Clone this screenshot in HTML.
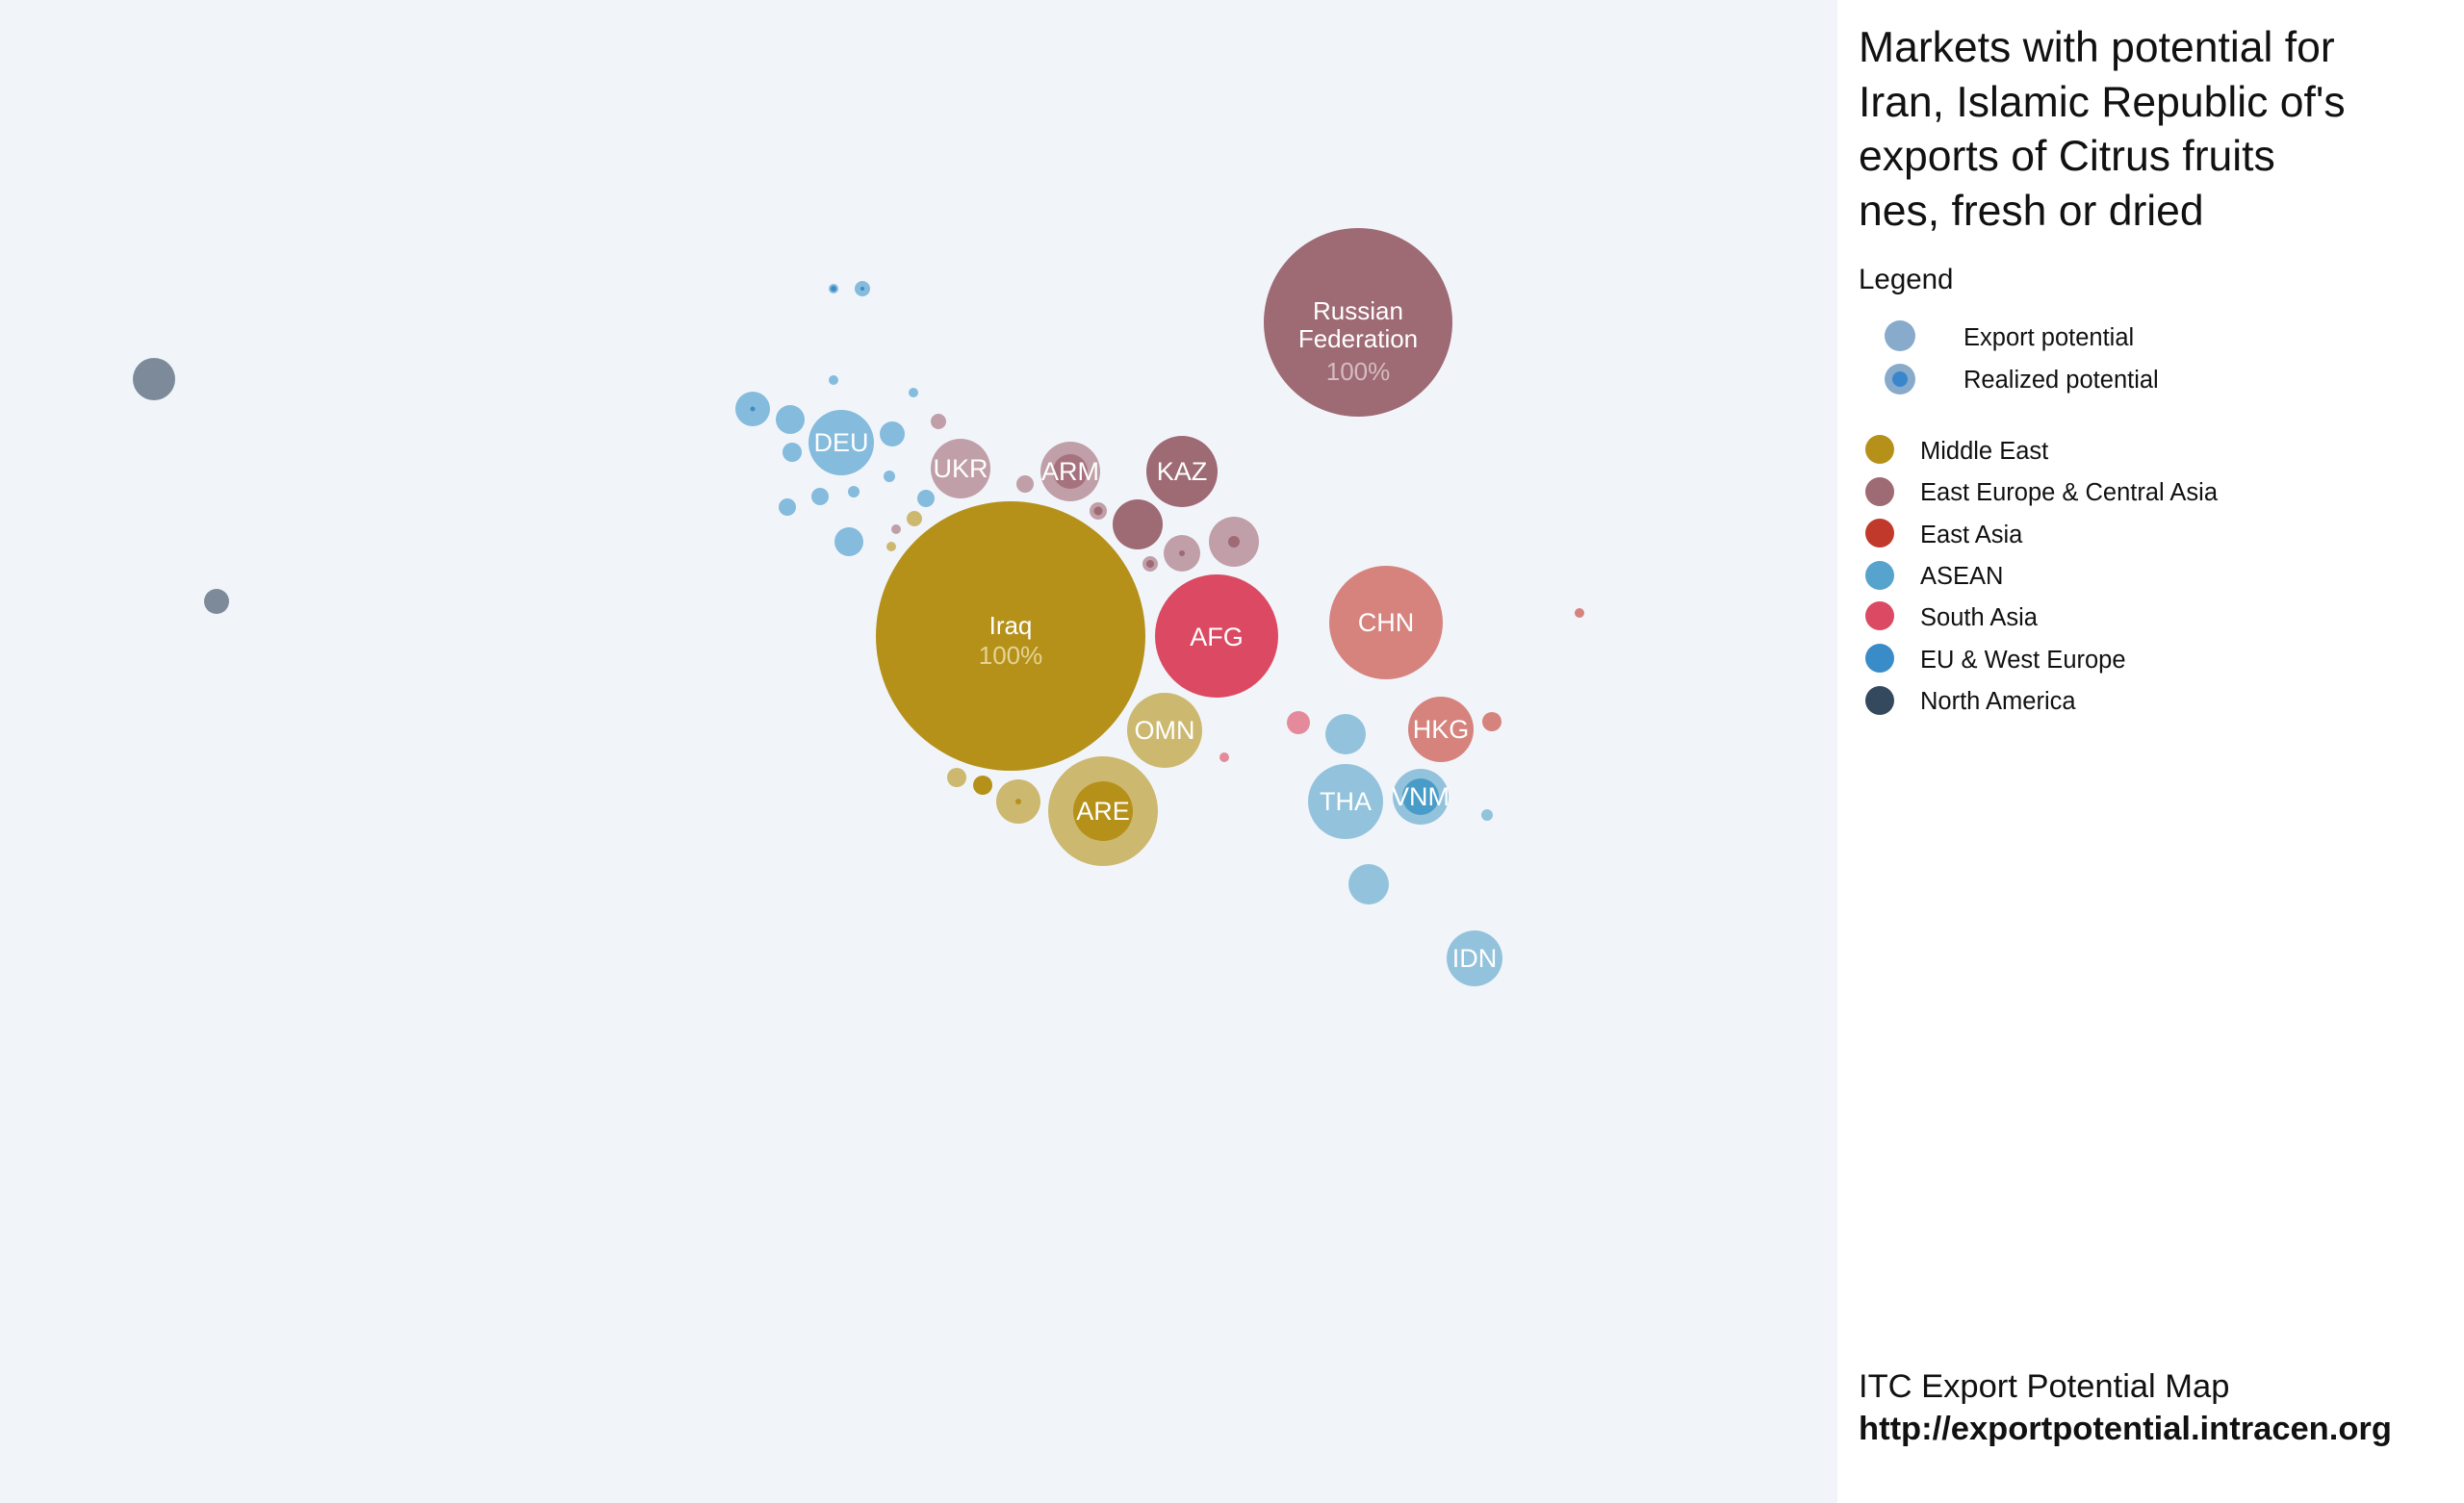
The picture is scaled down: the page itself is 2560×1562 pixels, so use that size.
<!DOCTYPE html>
<html><head><meta charset="utf-8"><style>
html,body{margin:0;padding:0;}
body{width:2560px;height:1562px;background:#f1f5fa;font-family:"Liberation Sans",sans-serif;position:relative;overflow:hidden;}
#panel{position:absolute;left:1909px;top:0;width:651px;height:1562px;background:#fff;}
.t{position:absolute;color:#111;white-space:nowrap;}
</style></head><body>
<svg width="1909" height="1562" style="position:absolute;left:0;top:0" font-family="Liberation Sans, sans-serif">
<g fill-opacity="1">
<circle cx="160" cy="394" r="22" fill="#7d8a99"/>
<circle cx="225" cy="625" r="13" fill="#7d8a99"/>
<circle cx="782" cy="425" r="18" fill="#85bbdc"/><circle cx="782" cy="425" r="2.5" fill="#3d8cc4"/>
<circle cx="821" cy="436" r="15" fill="#85bbdc"/>
<circle cx="823" cy="470" r="10" fill="#85bbdc"/>
<circle cx="927" cy="451" r="13" fill="#85bbdc"/>
<circle cx="882" cy="563" r="15" fill="#85bbdc"/>
<circle cx="818" cy="527" r="9" fill="#85bbdc"/>
<circle cx="852" cy="516" r="9" fill="#85bbdc"/>
<circle cx="887" cy="511" r="6" fill="#85bbdc"/>
<circle cx="962" cy="518" r="9" fill="#85bbdc"/>
<circle cx="924" cy="495" r="6" fill="#85bbdc"/>
<circle cx="866" cy="395" r="5" fill="#85bbdc"/>
<circle cx="949" cy="408" r="5" fill="#85bbdc"/>
<circle cx="866" cy="300" r="5" fill="#85bbdc"/><circle cx="866" cy="300" r="3" fill="#3d8cc4"/>
<circle cx="896" cy="300" r="8" fill="#85bbdc"/><circle cx="896" cy="300" r="2" fill="#3d8cc4"/>
<circle cx="874" cy="460" r="34" fill="#85bbdc"/>
<circle cx="1411" cy="335" r="98" fill="#9e6a74"/>
<circle cx="1228" cy="490" r="37" fill="#9e6a74"/>
<circle cx="1112" cy="490" r="31" fill="#c09fa8"/><circle cx="1112" cy="490" r="18" fill="#a6727d"/>
<circle cx="998" cy="487" r="31" fill="#c09fa8"/>
<circle cx="1182" cy="545" r="26" fill="#9e6a74"/>
<circle cx="1282" cy="563" r="26" fill="#c09fa8"/><circle cx="1282" cy="563" r="6" fill="#9e6a74"/>
<circle cx="1228" cy="575" r="19" fill="#c09fa8"/><circle cx="1228" cy="575" r="3" fill="#9e6a74"/>
<circle cx="1195" cy="586" r="8" fill="#c09fa8"/><circle cx="1195" cy="586" r="4" fill="#9e6a74"/>
<circle cx="1141" cy="531" r="9" fill="#c09fa8"/><circle cx="1141" cy="531" r="4.5" fill="#9e6a74"/>
<circle cx="1065" cy="503" r="9" fill="#c09fa8"/>
<circle cx="975" cy="438" r="8" fill="#c09fa8"/>
<circle cx="931" cy="550" r="5" fill="#c09fa8"/>
<circle cx="1050" cy="661" r="140" fill="#b5911a"/>
<circle cx="1210" cy="759" r="39" fill="#cdb870"/>
<circle cx="1146" cy="843" r="57" fill="#cdb870"/><circle cx="1146" cy="843" r="31" fill="#b5911a"/>
<circle cx="1058" cy="833" r="23" fill="#cdb870"/><circle cx="1058" cy="833" r="3" fill="#b5911a"/>
<circle cx="1021" cy="816" r="10" fill="#b5911a"/>
<circle cx="994" cy="808" r="10" fill="#cdb870"/>
<circle cx="950" cy="539" r="8" fill="#cdb870"/>
<circle cx="926" cy="568" r="5" fill="#cdb870"/>
<circle cx="1264" cy="661" r="64" fill="#db4a62"/>
<circle cx="1349" cy="751" r="12" fill="#e58a9a"/>
<circle cx="1272" cy="787" r="5" fill="#e58a9a"/>
<circle cx="1440" cy="647" r="59" fill="#d6837e"/>
<circle cx="1497" cy="758" r="34" fill="#d6837e"/>
<circle cx="1550" cy="750" r="10" fill="#d6837e"/>
<circle cx="1641" cy="637" r="5" fill="#d6837e"/>
<circle cx="1398" cy="833" r="39" fill="#93c3dc"/>
<circle cx="1476" cy="828" r="29" fill="#93c3dc"/><circle cx="1476" cy="828" r="19" fill="#4a9cc8"/>
<circle cx="1532" cy="996" r="29" fill="#93c3dc"/>
<circle cx="1398" cy="763" r="21" fill="#93c3dc"/>
<circle cx="1422" cy="919" r="21" fill="#93c3dc"/>
<circle cx="1545" cy="847" r="6" fill="#93c3dc"/>
</g>
<g fill="#fff" font-size="26" text-anchor="middle">
<text x="1411" y="332">Russian</text>
<text x="1411" y="361">Federation</text>
<text x="1411" y="395" fill="#d4bcc1">100%</text>
<text x="1050" y="659">Iraq</text>
<text x="1050" y="690" fill="#e6d394">100%</text>
<text x="1264" y="671" font-size="27">AFG</text>
<text x="1440" y="656" font-size="27">CHN</text>
<text x="1228" y="499" font-size="27">KAZ</text>
<text x="1112" y="499" font-size="27">ARM</text>
<text x="998" y="496" font-size="27">UKR</text>
<text x="874" y="469" font-size="27">DEU</text>
<text x="1210" y="768" font-size="27">OMN</text>
<text x="1146" y="852" font-size="27">ARE</text>
<text x="1497" y="767" font-size="27">HKG</text>
<text x="1398" y="842" font-size="27">THA</text>
<text x="1476" y="837" font-size="27">VNM</text>
<text x="1532" y="1005" font-size="27">IDN</text>
</g>
</svg>
<div id="panel"></div>
<div class="t" style="left:1931px;top:22px;font-size:44.5px;line-height:56.5px;">Markets with potential for<br>Iran, Islamic Republic of's<br>exports of Citrus fruits<br>nes, fresh or dried</div>
<div class="t" style="left:1931px;top:274px;font-size:29.5px;">Legend</div>
<svg width="651" height="800" style="position:absolute;left:1909px;top:0">
<circle cx="65" cy="349" r="16" fill="#88abcc"/>
<circle cx="65" cy="394" r="16" fill="#88abcc"/><circle cx="65" cy="394" r="8" fill="#3a86cc"/>
<circle cx="44" cy="467" r="15" fill="#b5911a"/>
<circle cx="44" cy="511" r="15" fill="#9e6a74"/>
<circle cx="44" cy="554" r="15" fill="#c0392b"/>
<circle cx="44" cy="598" r="15" fill="#56a3cd"/>
<circle cx="44" cy="640" r="15" fill="#db4a62"/>
<circle cx="44" cy="684" r="15" fill="#3a8cc8"/>
<circle cx="44" cy="728" r="15" fill="#34495e"/>
<g font-family="Liberation Sans, sans-serif" font-size="25.5" fill="#111">
<text x="131" y="359">Export potential</text>
<text x="131" y="403">Realized potential</text>
<text x="86" y="477">Middle East</text>
<text x="86" y="520">East Europe &amp; Central Asia</text>
<text x="86" y="564">East Asia</text>
<text x="86" y="607">ASEAN</text>
<text x="86" y="650">South Asia</text>
<text x="86" y="694">EU &amp; West Europe</text>
<text x="86" y="737">North America</text>
</g>
</svg>
<div class="t" style="left:1931px;top:1422px;font-size:34.5px;">ITC Export Potential Map</div>
<div class="t" style="left:1931px;top:1466px;font-size:34.5px;font-weight:bold;">http://exportpotential.intracen.org</div>
</body></html>
